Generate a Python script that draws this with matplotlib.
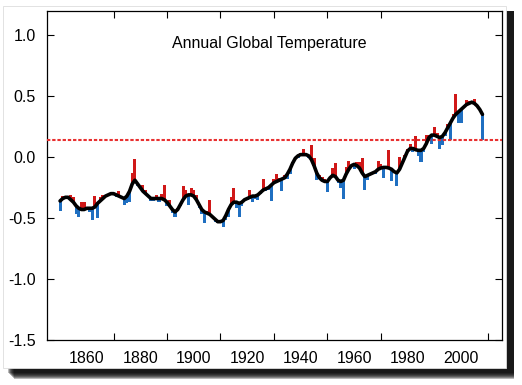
import matplotlib
matplotlib.use('Agg')
import matplotlib.pyplot as plt
from matplotlib.patches import Rectangle

# annual anomaly, 1850-2008
years = list(range(1850, 2009))
annual = [
    -0.44, -0.32, -0.32, -0.34, -0.31, -0.33, -0.47, -0.49, -0.37, -0.37,  # 1850s
    -0.41, -0.45, -0.52, -0.32, -0.50, -0.33, -0.31, -0.33, -0.30, -0.30,  # 1860s
    -0.30, -0.33, -0.28, -0.33, -0.39, -0.38, -0.37, -0.13, -0.02, -0.24,  # 1870s
    -0.25, -0.23, -0.27, -0.32, -0.36, -0.36, -0.31, -0.37, -0.30, -0.23,  # 1880s
    -0.40, -0.35, -0.46, -0.49, -0.42, -0.40, -0.24, -0.27, -0.39, -0.25,  # 1890s
    -0.27, -0.31, -0.42, -0.47, -0.54, -0.44, -0.35, -0.50, -0.53, -0.54,  # 1900s
    -0.53, -0.57, -0.52, -0.49, -0.33, -0.25, -0.42, -0.49, -0.40, -0.35,  # 1910s
    -0.35, -0.27, -0.37, -0.34, -0.35, -0.30, -0.18, -0.28, -0.27, -0.36,  # 1920s
    -0.18, -0.14, -0.17, -0.28, -0.15, -0.18, -0.14, -0.04, 0.00, -0.01,   # 1930s
    0.03, 0.065, 0.02, -0.01, 0.10, -0.01, -0.19, -0.15, -0.16, -0.18,     # 1940s
    -0.29, -0.16, -0.09, -0.05, -0.21, -0.25, -0.34, -0.08, -0.03, -0.08,  # 1950s
    -0.10, -0.04, -0.04, -0.01, -0.27, -0.19, -0.13, -0.14, -0.14, -0.03,  # 1960s
    -0.06, -0.17, -0.07, 0.06, -0.20, -0.13, -0.24, 0.00, -0.04, 0.02,     # 1970s
    0.07, 0.11, 0.04, 0.175, 0.01, -0.04, 0.04, 0.18, 0.18, 0.11,          # 1980s
    0.25, 0.20, 0.07, 0.10, 0.17, 0.27, 0.14, 0.35, 0.52, 0.28,            # 1990s
    0.28, 0.40, 0.47, 0.46, 0.44, 0.475, 0.42, 0.40, 0.14,                 # 2000s
]

# smoothed curve
smooth = [
    -0.36, -0.34, -0.33, -0.33, -0.35, -0.37, -0.40, -0.42, -0.43, -0.43,
    -0.42, -0.42, -0.42, -0.41, -0.38, -0.36, -0.34, -0.32, -0.31, -0.30,
    -0.30, -0.31, -0.32, -0.33, -0.34, -0.32, -0.28, -0.22, -0.19, -0.22,
    -0.25, -0.28, -0.30, -0.32, -0.34, -0.34, -0.34, -0.34, -0.34, -0.35,
    -0.37, -0.40, -0.43, -0.45, -0.43, -0.39, -0.35, -0.32, -0.31, -0.31,
    -0.32, -0.35, -0.39, -0.43, -0.45, -0.46, -0.47, -0.49, -0.51, -0.53,
    -0.53, -0.52, -0.48, -0.43, -0.39, -0.37, -0.37, -0.38, -0.37, -0.35,
    -0.34, -0.33, -0.32, -0.32, -0.31, -0.29, -0.27, -0.26, -0.25, -0.23,
    -0.21, -0.20, -0.19, -0.18, -0.17, -0.14, -0.10, -0.05, -0.01, 0.01,
    0.02, 0.02, 0.02, 0.01, -0.02, -0.07, -0.13, -0.17, -0.19, -0.20,
    -0.20, -0.17, -0.15, -0.16, -0.19, -0.20, -0.19, -0.14, -0.10, -0.07,
    -0.06, -0.07, -0.09, -0.13, -0.16, -0.15, -0.14, -0.13, -0.12, -0.10,
    -0.09, -0.085, -0.085, -0.09, -0.10, -0.12, -0.13, -0.10, -0.05, 0.00,
    0.05, 0.07, 0.07, 0.06, 0.055, 0.055, 0.07, 0.11, 0.16, 0.18,
    0.18, 0.17, 0.16, 0.17, 0.20, 0.24, 0.28, 0.32, 0.35, 0.37,
    0.39, 0.41, 0.43, 0.44, 0.45, 0.44, 0.42, 0.39, 0.35,
]

ref_level = 0.14
label_years = [1860, 1880, 1900, 1920, 1940, 1960, 1980, 2000]
mark_years = [1860, 1870, 1890, 1900, 1910, 1930, 1940, 1950, 1960, 1970, 1980, 2000, 2010]
yticks = [1.0, 0.5, 0.0, -0.5, -1.0, -1.5]

plt.rcParams['font.family'] = ['Liberation Sans', 'DejaVu Sans']
plt.rcParams['axes.unicode_minus'] = False

fig = plt.figure(figsize=(5.22, 3.85), dpi=100)
W, H = 522.0, 385.0

# drop shadow + white card behind the axes
for i in range(7):
    fig.patches.append(Rectangle(((14 - i) / W, (H - 379 + i) / H), (500 + i) / W, (368 - i) / H,
                                 transform=fig.transFigure, facecolor='black', alpha=0.28,
                                 edgecolor='none', zorder=-3))
fig.patches.append(Rectangle((3 / W, (H - 368) / H), 503 / W, 362 / H, transform=fig.transFigure,
                             facecolor='white', edgecolor='#dddddd', lw=0.6, zorder=-2))

ax = fig.add_axes([46.7 / W, 45 / H, 455 / W, 329.3 / H])
ax.patch.set_alpha(0)

diff = [a - s for a, s in zip(annual, smooth)]
colors = ['#d01818' if d > 0 else '#1f6fc1' for d in diff]
ax.bar(years, diff, bottom=smooth, width=1.15, color=colors, linewidth=0, zorder=2)
ax.axhline(ref_level, color='#e83030', lw=1.5, linestyle=(0, (1.6, 0.9)), zorder=3)
ax.plot(years, smooth, color='black', lw=2.6, solid_capstyle='round', zorder=4)

ax.set_xlim(1845, 2015.2)
ax.set_ylim(-1.5, 1.2)

ax.set_xticks(label_years)
ax.tick_params(axis='x', which='major', length=0, pad=8, labelsize=11.5)
ax.set_xticks(mark_years, minor=True)
ax.tick_params(axis='x', which='minor', direction='in', length=5, width=0.8, top=True, bottom=True)
ax.set_yticks(yticks)
ax.set_yticklabels(['%.1f' % v for v in yticks])
ax.tick_params(axis='y', direction='in', length=5, width=0.8, left=True, right=True, pad=8, labelsize=11.5)
for sp in ax.spines.values():
    sp.set_linewidth(0.9)

ax.text(0.489, 0.901, 'Annual Global Temperature', transform=ax.transAxes,
        ha='center', va='center', fontsize=11.5)

fig.savefig('out.png', dpi=100)
